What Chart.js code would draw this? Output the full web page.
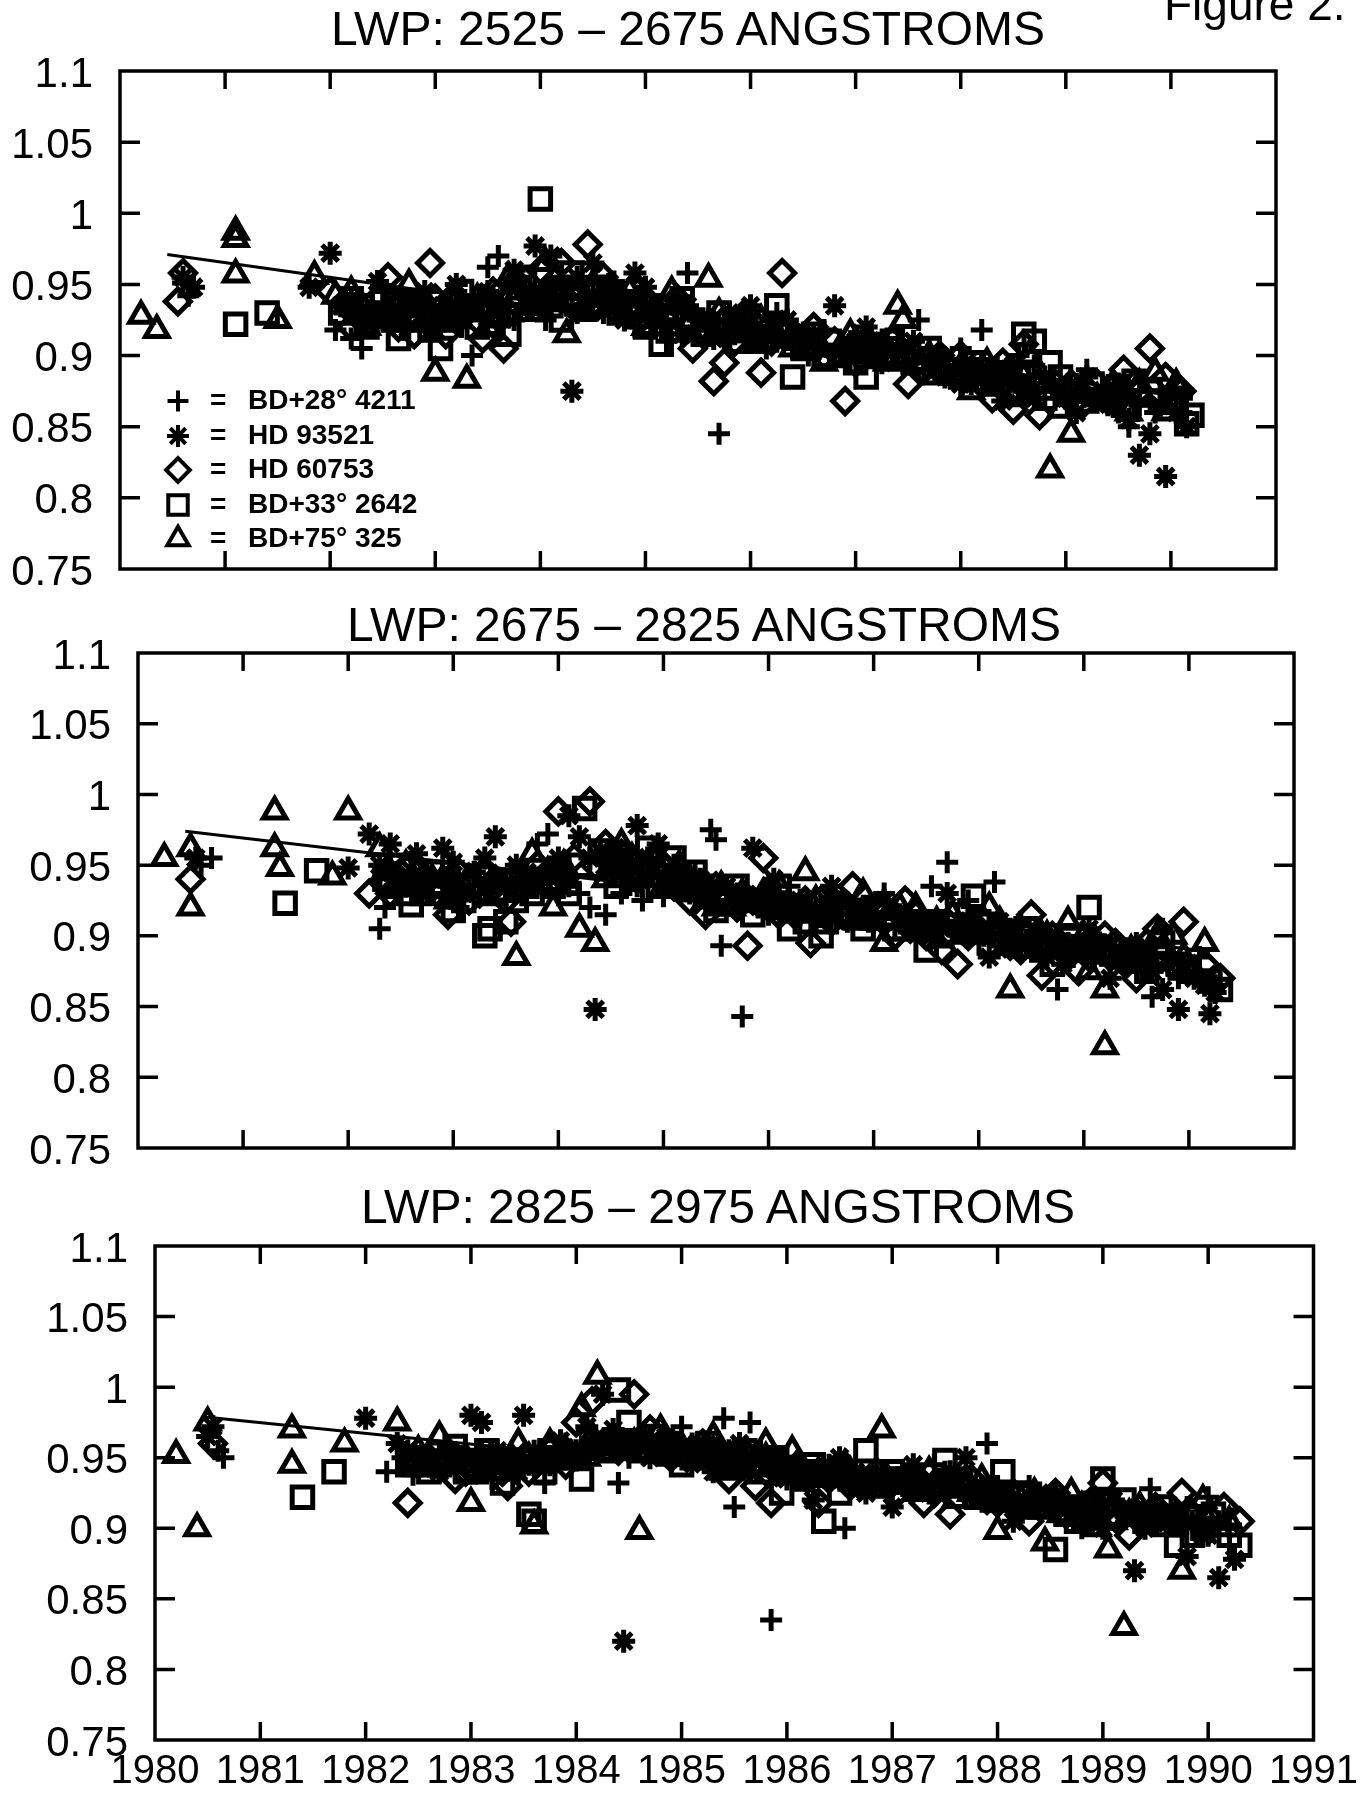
<!DOCTYPE html>
<html>
<head>
<meta charset="utf-8">
<title>LWP sensitivity</title>
<script src="https://cdn.jsdelivr.net/npm/chart.js@4.4.1/dist/chart.umd.min.js"></script>
<style>
  body { margin: 0; background: #fff; width: 1366px; height: 1799px; overflow: hidden; position: relative;
         font-family: 'Liberation Sans', Arial, sans-serif; color: #000; }
  .panel { position: absolute; left: 0; width: 1366px; }
  .title { position: absolute; font-size: 48px; line-height: 1; white-space: nowrap; transform: translate(-50%, -50%); }
  #fig { position: absolute; left: 1164px; top: -19px; font-size: 46px; line-height: 46px; white-space: nowrap; }
</style>
</head>
<body>

<div class="panel" style="top:0;height:600px"><canvas id="c1"></canvas></div>
<div class="panel" style="top:600px;height:600px"><canvas id="c2"></canvas></div>
<div class="panel" style="top:1200px;height:599px"><canvas id="c3"></canvas></div>

<div id="fig">Figure 2.</div>
<div class="title" style="left:688px;top:29px">LWP: 2525 – 2675 ANGSTROMS</div>
<div class="title" style="left:704px;top:625px">LWP: 2675 – 2825 ANGSTROMS</div>
<div class="title" style="left:718px;top:1207px">LWP: 2825 – 2975 ANGSTROMS</div>

<script>
// axis ticks
const xTicks = [1980, 1981, 1982, 1983, 1984, 1985, 1986, 1987, 1988, 1989, 1990, 1991];
const xTickLabels = ['1980', '1981', '1982', '1983', '1984', '1985', '1986', '1987', '1988', '1989', '1990', '1991'];
const yTicks = [0.75, 0.8, 0.85, 0.9, 0.95, 1, 1.05, 1.1];
const yTickLabels = ['0.75', '0.8', '0.85', '0.9', '0.95', '1', '1.05', '1.1'];

// stars
const starNames = ['BD+28° 4211', 'HD 93521', 'HD 60753', 'BD+33° 2642', 'BD+75° 325'];
const starSymbols = ['cross', 'star', 'rectRot', 'rect', 'triangle'];

// ---- LWP 2525 - 2675 ----
const p1Bd28 = [[1980.6,0.951],[1980.65,0.942],[1982.05,0.918],[1982.2,0.912],[1982.3,0.905],[1982.4,0.935],[1982.6,0.928],[1982.8,0.94],[1983.0,0.922],[1983.2,0.945],[1983.35,0.9],[1983.5,0.962],[1983.6,0.97],[1983.7,0.935],[1983.9,0.948],[1984.05,0.925],[1984.2,0.955],[1984.4,0.94],[1984.6,0.93],[1984.8,0.945],[1985.0,0.935],[1985.2,0.91],[1985.4,0.958],[1985.6,0.92],[1985.7,0.845],[1985.9,0.925],[1986.1,0.915],[1986.4,0.905],[1986.7,0.918],[1987.0,0.9],[1987.3,0.912],[1987.6,0.925],[1987.8,0.895],[1988.0,0.905],[1988.2,0.918],[1988.4,0.885],[1988.7,0.893],[1988.9,0.875],[1989.1,0.88],[1989.3,0.872],[1989.5,0.86],[1989.6,0.85],[1989.7,0.865],[1989.9,0.875],[1990.1,0.86],
  [1982.15,0.93],[1982.5,0.945],[1982.7,0.918],[1983.1,0.935],[1983.45,0.925],[1983.8,0.955],[1984.15,0.94],[1984.35,0.93],[1984.7,0.952],[1984.9,0.92],[1985.3,0.93],[1985.75,0.91],[1986.0,0.92],[1986.25,0.93],[1986.55,0.9],[1986.85,0.905],[1987.15,0.915],[1987.45,0.895],[1988.1,0.88],[1988.55,0.9],[1988.8,0.87],[1989.2,0.89],[1989.4,0.865],[1990.0,0.87],
  [1982.25,0.925],[1982.55,0.935],[1982.9,0.93],[1983.25,0.92],[1983.55,0.94],[1983.75,0.925],[1984.0,0.945],[1984.25,0.935],[1984.55,0.945],[1984.75,0.935],[1985.05,0.925],[1985.45,0.92],[1985.85,0.915],[1986.15,0.905],[1986.45,0.915],[1986.95,0.91],[1987.35,0.9],[1987.7,0.905],[1988.05,0.895],[1988.35,0.88],[1988.65,0.885],[1989.05,0.87],[1989.55,0.875],[1989.85,0.86]];
const p1Hd93 = [[1980.6,0.955],[1980.7,0.948],[1981.8,0.948],[1982.0,0.972],[1982.2,0.94],[1982.45,0.952],[1982.6,0.93],[1982.9,0.945],[1983.1,0.925],[1983.3,0.935],[1983.5,0.945],[1983.75,0.96],[1983.95,0.977],[1984.1,0.97],[1984.3,0.875],[1984.35,0.955],[1984.5,0.965],[1984.7,0.945],[1984.9,0.958],[1985.1,0.93],[1985.3,0.94],[1985.5,0.925],[1985.8,0.93],[1986.0,0.935],[1986.2,0.92],[1986.5,0.91],[1986.8,0.935],[1987.1,0.92],[1987.4,0.905],[1987.7,0.895],[1988.0,0.88],[1988.2,0.89],[1988.4,0.868],[1988.6,0.875],[1988.8,0.885],[1989.0,0.87],[1989.2,0.885],[1989.45,0.865],[1989.7,0.83],[1989.8,0.845],[1989.95,0.815],[1990.05,0.86],[1990.15,0.85],
  [1982.1,0.935],[1982.35,0.922],[1982.75,0.94],[1983.0,0.918],[1983.2,0.95],[1983.6,0.93],[1983.85,0.945],[1984.0,0.935],[1984.2,0.95],[1984.6,0.935],[1984.8,0.925],[1985.0,0.948],[1985.2,0.92],[1985.4,0.935],[1985.65,0.912],[1986.1,0.91],[1986.35,0.925],[1986.65,0.905],[1987.0,0.91],[1987.25,0.895],[1987.55,0.91],[1987.85,0.885],[1988.3,0.88],[1988.5,0.893],[1988.95,0.878],[1989.1,0.86],[1989.35,0.875],[1989.6,0.855],[1990.1,0.87],
  [1982.3,0.93],[1982.65,0.925],[1982.95,0.935],[1983.15,0.928],[1983.4,0.935],[1983.7,0.95],[1983.9,0.94],[1984.15,0.94],[1984.45,0.94],[1984.65,0.95],[1985.05,0.935],[1985.35,0.915],[1985.6,0.925],[1985.9,0.92],[1986.25,0.91],[1986.6,0.915],[1986.9,0.9],[1987.2,0.905],[1987.5,0.895],[1987.8,0.9],[1988.1,0.885],[1988.45,0.885],[1988.7,0.87],[1989.25,0.87],[1989.5,0.88],[1989.9,0.865]];
const p1Hd60 = [[1980.55,0.938],[1980.6,0.958],[1982.0,0.945],[1982.3,0.925],[1982.55,0.955],[1982.8,0.915],[1982.95,0.965],[1983.1,0.915],[1983.3,0.93],[1983.45,0.912],[1983.65,0.905],[1983.8,0.95],[1984.0,0.96],[1984.2,0.965],[1984.45,0.978],[1984.6,0.955],[1984.8,0.938],[1985.0,0.94],[1985.2,0.925],[1985.45,0.905],[1985.65,0.882],[1985.75,0.895],[1985.95,0.93],[1986.1,0.888],[1986.3,0.958],[1986.45,0.91],[1986.7,0.9],[1986.9,0.868],[1987.2,0.9],[1987.5,0.88],[1987.8,0.9],[1988.1,0.888],[1988.3,0.87],[1988.5,0.862],[1988.6,0.908],[1988.75,0.858],[1989.0,0.872],[1989.3,0.88],[1989.55,0.89],[1989.8,0.905],[1989.95,0.885],[1990.1,0.875],
  [1982.15,0.935],[1982.45,0.94],[1982.65,0.92],[1983.0,0.94],[1983.2,0.925],[1983.55,0.945],[1983.9,0.935],[1984.1,0.945],[1984.3,0.935],[1984.7,0.945],[1984.95,0.925],[1985.3,0.94],[1985.55,0.915],[1985.85,0.91],[1986.0,0.925],[1986.2,0.91],[1986.6,0.92],[1987.0,0.895],[1987.35,0.91],[1987.65,0.89],[1988.0,0.9],[1988.2,0.88],[1988.4,0.895],[1988.9,0.88],[1989.15,0.865],[1989.45,0.87],[1989.7,0.875],
  [1982.2,0.92],[1982.5,0.928],[1982.85,0.935],[1983.15,0.94],[1983.4,0.925],[1983.7,0.93],[1984.05,0.94],[1984.35,0.95],[1984.55,0.935],[1984.85,0.93],[1985.1,0.932],[1985.4,0.92],[1985.75,0.925],[1986.05,0.915],[1986.35,0.92],[1986.8,0.91],[1987.1,0.905],[1987.45,0.9],[1987.9,0.89],[1988.25,0.885],[1988.65,0.875],[1989.05,0.88],[1989.35,0.87],[1989.6,0.865]];
const p1Bd33 = [[1981.1,0.922],[1981.4,0.93],[1982.1,0.93],[1982.35,0.92],[1982.5,0.942],[1982.65,0.912],[1982.85,0.925],[1983.05,0.905],[1983.25,0.945],[1983.4,0.92],[1983.6,0.928],[1983.85,0.955],[1984.0,1.01],[1984.1,0.935],[1984.3,0.958],[1984.5,0.945],[1984.75,0.93],[1985.0,0.92],[1985.15,0.908],[1985.35,0.94],[1985.55,0.915],[1985.85,0.925],[1986.05,0.91],[1986.25,0.935],[1986.4,0.885],[1986.6,0.915],[1986.85,0.9],[1987.1,0.885],[1987.35,0.91],[1987.55,0.895],[1987.85,0.89],[1988.1,0.895],[1988.35,0.88],[1988.6,0.915],[1988.7,0.91],[1988.85,0.895],[1989.1,0.875],[1989.4,0.87],[1989.65,0.882],[1989.9,0.868],[1990.05,0.87],[1990.15,0.852],[1990.2,0.858],
  [1982.2,0.94],[1982.45,0.93],[1982.75,0.935],[1982.95,0.918],[1983.15,0.93],[1983.5,0.935],[1983.7,0.915],[1983.95,0.94],[1984.2,0.925],[1984.4,0.935],[1984.6,0.948],[1984.9,0.935],[1985.1,0.928],[1985.45,0.925],[1985.7,0.93],[1985.95,0.918],[1986.15,0.92],[1986.5,0.905],[1986.75,0.91],[1987.0,0.895],[1987.25,0.9],[1987.7,0.905],[1988.0,0.885],[1988.25,0.89],[1988.5,0.875],[1988.95,0.885],[1989.25,0.88],[1989.55,0.865],[1989.8,0.875],
  [1982.3,0.935],[1982.6,0.925],[1982.8,0.93],[1983.1,0.925],[1983.35,0.935],[1983.55,0.922],[1983.8,0.938],[1984.15,0.945],[1984.35,0.94],[1984.7,0.94],[1985.05,0.935],[1985.25,0.918],[1985.6,0.92],[1985.9,0.91],[1986.3,0.915],[1986.7,0.9],[1986.95,0.905],[1987.45,0.9],[1987.75,0.888],[1988.15,0.89],[1988.45,0.888],[1988.8,0.87],[1989.2,0.868],[1989.5,0.878]];
const p1Bd75 = [[1980.2,0.928],[1980.35,0.918],[1981.1,0.982],[1981.1,0.987],[1981.1,0.957],[1981.5,0.925],[1981.85,0.956],[1982.05,0.942],[1982.3,0.935],[1982.5,0.925],[1982.75,0.95],[1983.0,0.888],[1983.15,0.94],[1983.3,0.883],[1983.5,0.92],[1983.7,0.955],[1983.9,0.93],[1984.05,0.965],[1984.25,0.915],[1984.5,0.95],[1984.7,0.935],[1984.95,0.925],[1985.25,0.945],[1985.6,0.954],[1985.8,0.915],[1986.1,0.925],[1986.4,0.905],[1986.7,0.895],[1986.95,0.915],[1987.2,0.905],[1987.4,0.935],[1987.45,0.925],[1987.8,0.89],[1988.1,0.875],[1988.4,0.885],[1988.65,0.9],[1988.85,0.82],[1988.95,0.862],[1989.05,0.845],[1989.3,0.87],[1989.6,0.86],[1989.85,0.888],[1990.05,0.88],
  [1982.2,0.945],[1982.4,0.93],[1982.65,0.935],[1982.9,0.925],[1983.1,0.93],[1983.4,0.94],[1983.6,0.935],[1983.8,0.945],[1984.0,0.93],[1984.15,0.955],[1984.4,0.93],[1984.6,0.94],[1984.85,0.945],[1985.1,0.93],[1985.4,0.92],[1985.7,0.93],[1985.95,0.92],[1986.25,0.915],[1986.55,0.91],[1986.85,0.905],[1987.1,0.9],[1987.6,0.895],[1987.95,0.885],[1988.25,0.895],[1988.5,0.87],[1988.75,0.88],[1989.15,0.875],[1989.45,0.88],[1989.75,0.87],[1989.95,0.86],
  [1982.35,0.92],[1982.6,0.94],[1982.85,0.935],[1983.05,0.928],[1983.25,0.935],[1983.55,0.928],[1983.75,0.94],[1984.1,0.94],[1984.3,0.945],[1984.55,0.935],[1984.8,0.93],[1985.0,0.92],[1985.35,0.935],[1985.65,0.915],[1986.0,0.915],[1986.3,0.92],[1986.6,0.905],[1987.0,0.91],[1987.3,0.895],[1987.7,0.9],[1988.0,0.892],[1988.3,0.88],[1988.6,0.885],[1989.0,0.875],[1989.4,0.868],[1989.7,0.88]];
const p1Trend = [[1980.45,0.971],[1990.2,0.870]];

// ---- LWP 2675 - 2825 ----
const p2Bd28 = [[1980.6,0.95],[1980.7,0.955],[1982.3,0.905],[1982.35,0.92],[1982.6,0.94],[1982.9,0.93],[1983.2,0.945],[1983.5,0.925],[1983.8,0.965],[1983.9,0.972],[1984.1,0.935],[1984.3,0.92],[1984.45,0.915],[1984.6,0.93],[1984.8,0.925],[1985.0,0.928],[1985.3,0.945],[1985.45,0.975],[1985.5,0.968],[1985.55,0.893],[1985.75,0.843],[1985.9,0.92],[1986.1,0.93],[1986.3,0.915],[1986.6,0.925],[1986.9,0.92],[1987.1,0.93],[1987.3,0.91],[1987.55,0.935],[1987.7,0.952],[1987.9,0.925],[1988.15,0.938],[1988.3,0.905],[1988.5,0.895],[1988.75,0.862],[1988.9,0.885],[1989.1,0.9],[1989.4,0.89],[1989.55,0.875],[1989.65,0.857],[1989.75,0.905],[1989.9,0.87],[1990.1,0.885],[1990.25,0.865],
  [1982.5,0.93],[1982.75,0.945],[1983.05,0.92],[1983.35,0.935],[1983.65,0.94],[1984.0,0.95],[1984.2,0.93],[1984.7,0.94],[1984.95,0.95],[1985.15,0.935],[1985.7,0.93],[1986.0,0.915],[1986.2,0.935],[1986.45,0.92],[1986.75,0.91],[1987.0,0.915],[1987.2,0.92],[1987.45,0.905],[1987.8,0.915],[1988.05,0.9],[1988.4,0.91],[1988.6,0.89],[1989.0,0.895],[1989.25,0.88],[1989.85,0.885],[1990.0,0.875],
  [1982.45,0.945],[1982.7,0.93],[1983.0,0.94],[1983.25,0.93],[1983.55,0.945],[1983.75,0.935],[1984.05,0.94],[1984.5,0.945],[1984.75,0.935],[1985.05,0.94],[1985.25,0.93],[1985.65,0.925],[1985.95,0.93],[1986.35,0.92],[1986.65,0.915],[1986.95,0.91],[1987.35,0.915],[1987.65,0.905],[1987.95,0.91],[1988.25,0.9],[1988.55,0.9],[1988.85,0.895],[1989.2,0.89],[1989.5,0.895],[1989.95,0.88]];
const p2Hd93 = [[1980.55,0.955],[1982.0,0.948],[1982.2,0.972],[1982.4,0.965],[1982.65,0.958],[1982.9,0.962],[1983.0,0.952],[1983.2,0.945],[1983.4,0.97],[1983.6,0.95],[1983.85,0.94],[1984.1,0.985],[1984.2,0.97],[1984.35,0.848],[1984.55,0.96],[1984.75,0.978],[1984.95,0.965],[1985.1,0.95],[1985.35,0.94],[1985.6,0.935],[1985.85,0.962],[1986.05,0.94],[1986.3,0.925],[1986.6,0.935],[1986.85,0.915],[1987.1,0.925],[1987.4,0.905],[1987.7,0.93],[1987.95,0.91],[1988.1,0.885],[1988.3,0.895],[1988.55,0.9],[1988.8,0.88],[1989.05,0.905],[1989.25,0.87],[1989.55,0.89],[1989.75,0.862],[1989.9,0.848],[1990.05,0.87],[1990.2,0.845],[1990.25,0.86],
  [1982.3,0.95],[1982.55,0.935],[1982.8,0.94],[1983.1,0.93],[1983.3,0.955],[1983.5,0.935],[1983.7,0.945],[1984.0,0.955],[1984.4,0.96],[1984.65,0.945],[1984.85,0.955],[1985.2,0.935],[1985.45,0.925],[1985.75,0.93],[1986.15,0.92],[1986.45,0.915],[1986.7,0.925],[1987.0,0.91],[1987.25,0.915],[1987.55,0.9],[1987.85,0.905],[1988.2,0.91],[1988.45,0.895],[1988.65,0.885],[1988.95,0.89],[1989.15,0.895],[1989.4,0.88],[1989.65,0.875],[1990.15,0.865],
  [1982.45,0.94],[1982.75,0.93],[1983.05,0.94],[1983.45,0.94],[1983.75,0.94],[1984.05,0.945],[1984.3,0.955],[1984.6,0.95],[1984.9,0.945],[1985.15,0.945],[1985.4,0.935],[1985.65,0.925],[1985.95,0.92],[1986.25,0.92],[1986.55,0.92],[1986.95,0.915],[1987.3,0.91],[1987.6,0.91],[1987.9,0.9],[1988.35,0.9],[1988.7,0.895],[1989.1,0.885],[1989.45,0.89],[1989.8,0.88]];
const p2Hd60 = [[1980.5,0.94],[1982.2,0.93],[1982.5,0.945],[1982.7,0.935],[1982.95,0.915],[1983.15,0.925],[1983.4,0.94],[1983.55,0.91],[1983.8,0.95],[1984.0,0.988],[1984.3,0.995],[1984.45,0.965],[1984.6,0.958],[1984.9,0.955],[1985.1,0.935],[1985.4,0.915],[1985.6,0.925],[1985.8,0.893],[1985.95,0.955],[1986.15,0.92],[1986.4,0.895],[1986.6,0.91],[1986.8,0.935],[1987.1,0.91],[1987.3,0.925],[1987.5,0.9],[1987.65,0.89],[1987.8,0.88],[1988.05,0.91],[1988.3,0.893],[1988.5,0.915],[1988.6,0.872],[1988.8,0.89],[1989.05,0.885],[1989.3,0.895],[1989.5,0.87],[1989.7,0.905],[1989.95,0.91],[1990.15,0.88],[1990.3,0.87],
  [1982.35,0.94],[1982.6,0.95],[1982.85,0.93],[1983.05,0.945],[1983.25,0.93],[1983.65,0.935],[1983.9,0.945],[1984.15,0.955],[1984.5,0.945],[1984.75,0.94],[1985.0,0.95],[1985.25,0.925],[1985.5,0.935],[1985.7,0.92],[1986.0,0.93],[1986.25,0.915],[1986.5,0.925],[1986.95,0.915],[1987.2,0.9],[1987.4,0.915],[1987.9,0.9],[1988.15,0.905],[1988.4,0.89],[1988.7,0.9],[1988.95,0.875],[1989.2,0.9],[1989.4,0.88],[1989.6,0.895],[1989.85,0.88],
  [1982.4,0.93],[1982.75,0.94],[1983.0,0.935],[1983.3,0.945],[1983.5,0.925],[1983.75,0.94],[1984.05,0.94],[1984.35,0.95],[1984.65,0.95],[1984.85,0.945],[1985.15,0.94],[1985.35,0.93],[1985.85,0.925],[1986.1,0.915],[1986.35,0.925],[1986.7,0.915],[1987.05,0.92],[1987.35,0.905],[1987.7,0.91],[1988.0,0.905],[1988.25,0.895],[1988.55,0.9],[1988.9,0.89],[1989.25,0.885],[1989.55,0.885]];
const p2Bd33 = [[1981.4,0.923],[1981.7,0.946],[1982.4,0.935],[1982.6,0.922],[1982.8,0.945],[1983.0,0.918],[1983.3,0.9],[1983.35,0.905],[1983.5,0.91],[1983.75,0.93],[1984.0,0.945],[1984.25,0.99],[1984.55,0.935],[1984.7,0.94],[1984.85,0.962],[1985.1,0.955],[1985.3,0.945],[1985.5,0.918],[1985.7,0.935],[1986.0,0.925],[1986.2,0.905],[1986.5,0.9],[1986.75,0.915],[1987.0,0.92],[1987.2,0.905],[1987.5,0.89],[1987.8,0.915],[1987.95,0.928],[1988.2,0.9],[1988.45,0.905],[1988.7,0.88],[1989.05,0.92],[1989.2,0.89],[1989.5,0.885],[1989.75,0.895],[1990.0,0.875],[1990.2,0.868],[1990.3,0.862],
  [1982.5,0.95],[1982.7,0.93],[1982.9,0.935],[1983.15,0.935],[1983.6,0.925],[1983.9,0.94],[1984.1,0.93],[1984.4,0.96],[1984.6,0.95],[1984.95,0.935],[1985.2,0.94],[1985.4,0.93],[1985.6,0.925],[1985.85,0.915],[1986.1,0.935],[1986.35,0.91],[1986.6,0.92],[1986.9,0.905],[1987.1,0.915],[1987.35,0.91],[1987.65,0.9],[1988.0,0.91],[1988.3,0.895],[1988.55,0.895],[1988.85,0.9],[1989.35,0.885],[1989.6,0.875],[1989.9,0.88],
  [1982.35,0.94],[1982.55,0.93],[1982.85,0.935],[1983.1,0.925],[1983.4,0.93],[1983.7,0.935],[1983.95,0.935],[1984.2,0.95],[1984.5,0.955],[1984.8,0.945],[1985.05,0.935],[1985.35,0.935],[1985.55,0.93],[1985.8,0.925],[1986.05,0.92],[1986.3,0.92],[1986.55,0.91],[1986.85,0.915],[1987.3,0.905],[1987.55,0.91],[1987.9,0.905],[1988.1,0.895],[1988.4,0.9],[1988.6,0.89],[1988.95,0.89],[1989.3,0.89],[1989.7,0.885]];
const p2Bd75 = [[1980.25,0.955],[1980.5,0.962],[1980.5,0.92],[1981.3,0.988],[1981.3,0.962],[1981.35,0.948],[1981.85,0.942],[1982.0,0.988],[1982.3,0.962],[1982.55,0.95],[1982.8,0.94],[1983.05,0.93],[1983.3,0.945],[1983.6,0.885],[1983.75,0.958],[1983.95,0.92],[1984.2,0.905],[1984.35,0.895],[1984.6,0.965],[1984.8,0.95],[1985.05,0.94],[1985.3,0.93],[1985.55,0.935],[1985.8,0.925],[1986.1,0.935],[1986.35,0.945],[1986.55,0.915],[1986.9,0.93],[1987.1,0.895],[1987.4,0.92],[1987.6,0.91],[1987.85,0.905],[1988.1,0.92],[1988.3,0.862],[1988.6,0.9],[1988.85,0.91],[1989.05,0.875],[1989.2,0.862],[1989.2,0.822],[1989.45,0.89],[1989.7,0.9],[1989.95,0.885],[1990.15,0.895],
  [1982.45,0.935],[1982.65,0.945],[1982.95,0.925],[1983.15,0.94],[1983.45,0.93],[1983.85,0.935],[1984.05,0.95],[1984.45,0.94],[1984.7,0.955],[1984.9,0.94],[1985.15,0.95],[1985.4,0.925],[1985.65,0.92],[1985.95,0.93],[1986.2,0.92],[1986.45,0.925],[1986.75,0.92],[1987.0,0.91],[1987.25,0.92],[1987.5,0.905],[1987.75,0.915],[1988.0,0.9],[1988.2,0.91],[1988.45,0.89],[1988.75,0.895],[1989.0,0.9],[1989.35,0.885],[1989.6,0.88],[1989.85,0.9],[1990.05,0.875],
  [1982.4,0.945],[1982.6,0.935],[1982.9,0.94],[1983.1,0.935],[1983.35,0.935],[1983.65,0.94],[1983.9,0.945],[1984.1,0.935],[1984.5,0.955],[1984.75,0.945],[1985.0,0.935],[1985.25,0.94],[1985.5,0.92],[1985.75,0.93],[1986.05,0.925],[1986.3,0.915],[1986.6,0.92],[1986.85,0.91],[1987.15,0.91],[1987.45,0.91],[1987.7,0.9],[1987.95,0.91],[1988.35,0.895],[1988.65,0.9],[1988.95,0.89],[1989.25,0.89],[1989.5,0.88],[1989.75,0.89]];
const p2Trend = [[1980.45,0.974],[1990.2,0.889]];

// ---- LWP 2825 - 2975 ----
const p3Bd28 = [[1980.6,0.955],[1980.65,0.95],[1982.2,0.94],[1982.45,0.938],[1982.7,0.955],[1982.95,0.945],[1983.2,0.935],[1983.5,0.95],[1983.7,0.932],[1983.9,0.96],[1984.1,0.97],[1984.4,0.932],[1984.6,0.955],[1984.8,0.96],[1985.0,0.972],[1985.2,0.95],[1985.4,0.978],[1985.5,0.915],[1985.65,0.975],[1985.85,0.835],[1986.0,0.95],[1986.2,0.935],[1986.55,0.9],[1986.8,0.94],[1987.1,0.93],[1987.4,0.945],[1987.6,0.935],[1987.9,0.96],[1988.1,0.92],[1988.3,0.93],[1988.55,0.915],[1988.8,0.9],[1989.0,0.92],[1989.2,0.91],[1989.45,0.928],[1989.6,0.905],[1989.8,0.915],[1990.0,0.922],[1990.2,0.9],
  [1982.35,0.95],[1982.6,0.945],[1982.85,0.94],[1983.1,0.955],[1983.4,0.94],[1983.6,0.955],[1984.0,0.948],[1984.2,0.96],[1984.5,0.95],[1984.7,0.965],[1984.95,0.955],[1985.1,0.96],[1985.3,0.945],[1985.75,0.955],[1986.1,0.94],[1986.4,0.945],[1986.65,0.935],[1986.95,0.94],[1987.25,0.93],[1987.5,0.94],[1987.75,0.925],[1988.0,0.93],[1988.45,0.92],[1988.7,0.915],[1988.9,0.925],[1989.3,0.915],[1989.7,0.91],[1990.1,0.905],
  [1982.55,0.952],[1982.75,0.945],[1983.05,0.948],[1983.3,0.945],[1983.55,0.945],[1983.85,0.95],[1984.05,0.958],[1984.35,0.955],[1984.55,0.96],[1984.85,0.955],[1985.05,0.955],[1985.35,0.955],[1985.6,0.945],[1985.95,0.945],[1986.25,0.94],[1986.5,0.94],[1986.75,0.932],[1987.05,0.935],[1987.35,0.93],[1987.65,0.93],[1987.95,0.925],[1988.2,0.92],[1988.6,0.92],[1989.05,0.912],[1989.35,0.908],[1989.6,0.91],[1989.9,0.905]];
const p3Hd93 = [[1980.5,0.965],[1980.55,0.972],[1982.0,0.978],[1982.3,0.96],[1982.55,0.945],[1982.8,0.955],[1983.0,0.98],[1983.1,0.975],[1983.25,0.955],[1983.5,0.98],[1983.65,0.95],[1983.85,0.962],[1984.1,0.972],[1984.25,0.995],[1984.45,0.82],[1984.6,0.958],[1984.85,0.965],[1985.05,0.955],[1985.3,0.94],[1985.55,0.96],[1985.8,0.945],[1986.0,0.935],[1986.25,0.92],[1986.5,0.95],[1986.75,0.925],[1987.0,0.915],[1987.2,0.945],[1987.45,0.935],[1987.7,0.95],[1987.95,0.925],[1988.15,0.905],[1988.4,0.925],[1988.65,0.915],[1988.9,0.905],[1989.1,0.92],[1989.3,0.87],[1989.55,0.91],[1989.8,0.88],[1989.95,0.895],[1990.1,0.865],[1990.25,0.878],
  [1982.4,0.955],[1982.7,0.94],[1982.95,0.95],[1983.15,0.94],[1983.4,0.95],[1983.75,0.945],[1984.0,0.955],[1984.35,0.97],[1984.5,0.955],[1984.7,0.95],[1984.95,0.96],[1985.2,0.95],[1985.45,0.955],[1985.65,0.94],[1985.9,0.95],[1986.15,0.94],[1986.4,0.935],[1986.65,0.94],[1986.9,0.93],[1987.1,0.935],[1987.35,0.925],[1987.55,0.94],[1987.85,0.93],[1988.05,0.92],[1988.3,0.915],[1988.55,0.92],[1988.8,0.91],[1989.0,0.9],[1989.4,0.9],[1989.7,0.905],[1990.0,0.895],
  [1982.5,0.948],[1982.85,0.945],[1983.2,0.948],[1983.45,0.94],[1983.6,0.945],[1983.95,0.955],[1984.15,0.96],[1984.4,0.96],[1984.65,0.96],[1984.9,0.955],[1985.15,0.96],[1985.35,0.95],[1985.6,0.95],[1985.85,0.95],[1986.1,0.945],[1986.35,0.94],[1986.6,0.935],[1986.85,0.935],[1987.2,0.93],[1987.5,0.93],[1987.8,0.925],[1988.1,0.925],[1988.45,0.918],[1988.75,0.915],[1989.2,0.912],[1989.5,0.905],[1989.85,0.905]];
const p3Hd60 = [[1980.55,0.96],[1982.4,0.918],[1982.6,0.95],[1982.85,0.935],[1983.1,0.945],[1983.35,0.93],[1983.55,0.94],[1983.75,0.955],[1984.0,0.975],[1984.15,0.99],[1984.55,0.995],[1984.7,0.97],[1984.9,0.95],[1985.2,0.96],[1985.45,0.935],[1985.7,0.93],[1985.85,0.918],[1986.1,0.945],[1986.3,0.918],[1986.6,0.93],[1986.85,0.94],[1987.05,0.925],[1987.3,0.918],[1987.55,0.91],[1987.75,0.935],[1988.0,0.918],[1988.3,0.905],[1988.55,0.925],[1988.8,0.91],[1989.0,0.932],[1989.25,0.895],[1989.5,0.915],[1989.75,0.925],[1989.95,0.9],[1990.15,0.915],[1990.3,0.905],
  [1982.5,0.945],[1982.75,0.95],[1982.95,0.94],[1983.2,0.95],[1983.45,0.945],[1983.65,0.95],[1983.9,0.945],[1984.25,0.96],[1984.4,0.955],[1984.8,0.96],[1985.05,0.95],[1985.3,0.955],[1985.55,0.945],[1985.95,0.94],[1986.2,0.935],[1986.45,0.94],[1986.7,0.93],[1986.95,0.935],[1987.15,0.93],[1987.4,0.925],[1987.65,0.93],[1987.9,0.92],[1988.15,0.925],[1988.4,0.915],[1988.65,0.91],[1988.9,0.92],[1989.15,0.905],[1989.4,0.91],[1989.65,0.905],[1989.85,0.91],
  [1982.45,0.95],[1982.7,0.945],[1983.0,0.945],[1983.3,0.94],[1983.5,0.95],[1983.8,0.95],[1984.1,0.955],[1984.45,0.96],[1984.65,0.955],[1984.95,0.955],[1985.15,0.95],[1985.4,0.948],[1985.65,0.95],[1985.9,0.94],[1986.15,0.94],[1986.4,0.935],[1986.65,0.935],[1987.0,0.932],[1987.25,0.935],[1987.5,0.928],[1987.8,0.925],[1988.1,0.92],[1988.35,0.92],[1988.6,0.918],[1988.95,0.91],[1989.3,0.912],[1989.55,0.908]];
const p3Bd33 = [[1981.4,0.922],[1981.7,0.94],[1982.4,0.945],[1982.6,0.94],[1982.85,0.958],[1983.05,0.94],[1983.3,0.932],[1983.55,0.91],[1983.6,0.905],[1983.8,0.95],[1984.05,0.935],[1984.4,0.998],[1984.5,0.975],[1984.75,0.965],[1985.0,0.945],[1985.25,0.96],[1985.5,0.95],[1985.75,0.94],[1985.95,0.925],[1986.15,0.935],[1986.35,0.905],[1986.5,0.925],[1986.75,0.955],[1987.0,0.94],[1987.25,0.93],[1987.5,0.948],[1987.8,0.922],[1988.05,0.94],[1988.3,0.915],[1988.55,0.885],[1988.75,0.905],[1989.0,0.935],[1989.2,0.92],[1989.55,0.915],[1989.7,0.888],[1989.85,0.895],[1990.05,0.91],[1990.3,0.888],
  [1982.5,0.95],[1982.7,0.945],[1982.95,0.94],[1983.15,0.955],[1983.4,0.945],[1983.7,0.94],[1983.95,0.95],[1984.2,0.96],[1984.6,0.955],[1984.9,0.96],[1985.1,0.95],[1985.4,0.945],[1985.6,0.955],[1985.85,0.945],[1986.05,0.94],[1986.25,0.945],[1986.6,0.935],[1986.9,0.93],[1987.15,0.935],[1987.4,0.93],[1987.65,0.935],[1987.95,0.92],[1988.2,0.925],[1988.45,0.92],[1988.65,0.91],[1988.9,0.915],[1989.1,0.91],[1989.4,0.905],[1989.95,0.9],[1990.2,0.895],
  [1982.55,0.945],[1982.8,0.95],[1983.0,0.948],[1983.25,0.942],[1983.5,0.948],[1983.75,0.955],[1984.0,0.952],[1984.3,0.955],[1984.55,0.962],[1984.85,0.955],[1985.15,0.955],[1985.35,0.95],[1985.65,0.945],[1985.9,0.95],[1986.2,0.94],[1986.45,0.94],[1986.7,0.935],[1987.05,0.935],[1987.3,0.928],[1987.55,0.93],[1987.85,0.925],[1988.1,0.922],[1988.4,0.915],[1988.8,0.915],[1989.05,0.918],[1989.3,0.91],[1989.7,0.905]];
const p3Bd75 = [[1980.2,0.952],[1980.4,0.9],[1980.5,0.975],[1981.3,0.97],[1981.3,0.945],[1981.8,0.96],[1982.3,0.975],[1982.5,0.955],[1982.7,0.965],[1983.0,0.918],[1983.2,0.945],[1983.45,0.96],[1983.6,0.902],[1983.85,0.955],[1984.05,0.985],[1984.2,1.008],[1984.35,0.96],[1984.6,0.898],[1984.8,0.97],[1985.0,0.958],[1985.3,0.965],[1985.55,0.95],[1985.8,0.96],[1986.05,0.955],[1986.3,0.94],[1986.55,0.945],[1986.9,0.97],[1987.1,0.935],[1987.35,0.94],[1987.6,0.92],[1987.85,0.935],[1988.0,0.898],[1988.25,0.915],[1988.45,0.89],[1988.7,0.925],[1988.95,0.9],[1989.05,0.885],[1989.2,0.83],[1989.5,0.91],[1989.75,0.87],[1989.95,0.92],[1990.2,0.905],
  [1982.4,0.945],[1982.6,0.95],[1982.85,0.945],[1983.1,0.95],[1983.3,0.94],[1983.55,0.95],[1983.75,0.96],[1983.95,0.95],[1984.15,0.965],[1984.45,0.955],[1984.7,0.96],[1984.9,0.95],[1985.15,0.955],[1985.4,0.94],[1985.7,0.95],[1985.95,0.945],[1986.2,0.935],[1986.45,0.94],[1986.7,0.935],[1987.0,0.93],[1987.25,0.925],[1987.5,0.935],[1987.75,0.925],[1988.1,0.92],[1988.35,0.925],[1988.6,0.91],[1988.85,0.915],[1989.1,0.905],[1989.35,0.915],[1989.6,0.9],[1989.85,0.91],[1990.1,0.9],
  [1982.45,0.948],[1982.75,0.95],[1982.95,0.95],[1983.2,0.94],[1983.4,0.948],[1983.65,0.945],[1983.9,0.955],[1984.1,0.95],[1984.3,0.96],[1984.55,0.96],[1984.8,0.955],[1985.05,0.95],[1985.25,0.955],[1985.5,0.945],[1985.8,0.95],[1986.1,0.945],[1986.35,0.935],[1986.6,0.94],[1986.85,0.935],[1987.15,0.93],[1987.45,0.93],[1987.7,0.93],[1988.0,0.925],[1988.3,0.918],[1988.55,0.92],[1988.8,0.915],[1989.25,0.91],[1989.45,0.905],[1989.7,0.91],[1990.0,0.905]];
const p3Trend = [[1980.45,0.979],[1990.2,0.905]];

const FONT = "'Liberation Sans', Arial, sans-serif";
const symbolRadius = { cross: 11, star: 11.5, rectRot: 12.5, rect: 14.5, triangle: 13 };

const toXY = arr => arr.map(p => ({ x: p[0], y: p[1] }));

// box round the plot with inward ticks on all four sides
const framePlugin = {
  id: 'frame',
  afterDatasetsDraw(chart) {
    const { ctx, chartArea: a, scales: { x, y } } = chart;
    ctx.save();
    ctx.strokeStyle = '#000';
    ctx.lineWidth = 3.5;
    ctx.strokeRect(a.left, a.top, a.right - a.left, a.bottom - a.top);
    ctx.beginPath();
    xTicks.slice(1, -1).forEach(v => {
      const px = x.getPixelForValue(v);
      ctx.moveTo(px, a.top); ctx.lineTo(px, a.top + 18);
      ctx.moveTo(px, a.bottom); ctx.lineTo(px, a.bottom - 18);
    });
    yTicks.slice(1, -1).forEach(v => {
      const py = y.getPixelForValue(v);
      ctx.moveTo(a.left, py); ctx.lineTo(a.left + 20, py);
      ctx.moveTo(a.right, py); ctx.lineTo(a.right - 20, py);
    });
    ctx.stroke();
    ctx.restore();
  }
};

// symbol key in the lower left of the first panel
const keyPlugin = {
  id: 'key',
  afterDraw(chart) {
    const { ctx, chartArea: a } = chart;
    const rows = [168, 133, 99, 64, 30];
    ctx.save();
    ctx.strokeStyle = '#000';
    ctx.lineWidth = 4;
    ctx.fillStyle = 'rgba(0,0,0,0)';
    starSymbols.forEach((s, i) => {
      Chart.helpers.drawPoint(ctx, { pointStyle: s, radius: symbolRadius[s] * 0.95, rotation: 0, borderWidth: 4 },
        a.left + 58, a.bottom - rows[i]);
    });
    ctx.fillStyle = '#000';
    ctx.font = 'bold 28px ' + FONT;
    ctx.textBaseline = 'middle';
    starNames.forEach((n, i) => {
      const yy = a.bottom - rows[i];
      ctx.fillText('=', a.left + 90, yy);
      ctx.fillText(n, a.left + 128, yy);
    });
    ctx.restore();
  }
};

function makePanel(id, series, trend, box, showX, withKey) {
  const datasets = [{
    type: 'line',
    data: toXY(trend),
    borderColor: '#000',
    borderWidth: 3,
    pointRadius: 0,
    showLine: true,
    fill: false
  }];
  series.forEach((s, i) => {
    const style = starSymbols[i];
    datasets.push({
      label: starNames[i],
      data: toXY(s),
      pointStyle: style,
      pointRadius: symbolRadius[style],
      pointBorderWidth: 5,
      pointBorderColor: '#000',
      pointBackgroundColor: 'rgba(0,0,0,0)',
      borderColor: '#000',
      backgroundColor: 'rgba(0,0,0,0)'
    });
  });

  new Chart(document.getElementById(id), {
    type: 'scatter',
    data: { datasets },
    options: {
      responsive: true,
      maintainAspectRatio: false,
      animation: false,
      events: [],
      layout: { padding: { left: 0, right: 1366 - box.right, top: box.top, bottom: showX ? 0 : box.bottom } },
      plugins: { legend: { display: false }, tooltip: { enabled: false } },
      scales: {
        x: {
          type: 'linear', min: 1980, max: 1991, display: showX,
          afterBuildTicks: s => { s.ticks = xTicks.map(v => ({ value: v })); },
          afterFit: s => { s.height = box.xh || 0; },
          grid: { display: false, drawTicks: false }, border: { display: false },
          ticks: { color: '#000', padding: 8, autoSkip: false, maxRotation: 0,
                   font: { family: FONT, size: 40 }, callback: (v, i) => xTickLabels[i] }
        },
        y: {
          min: 0.75, max: 1.1,
          afterBuildTicks: s => { s.ticks = yTicks.map(v => ({ value: v })); },
          // keep the plot box where it is: no extra room for the end labels
          afterFit: s => { s.width = box.left; s.paddingTop = 0; s.paddingBottom = 0; },
          grid: { display: false, drawTicks: false }, border: { display: false },
          ticks: { color: '#000', padding: 27, labelOffset: 4, autoSkip: false,
                   font: { family: FONT, size: 42 }, callback: (v, i) => yTickLabels[i] }
        }
      }
    },
    plugins: withKey ? [framePlugin, keyPlugin] : [framePlugin]
  });
}

makePanel('c1', [p1Bd28, p1Hd93, p1Hd60, p1Bd33, p1Bd75], p1Trend,
  { left: 120, right: 1276, top: 71, bottom: 31 }, false, true);
makePanel('c2', [p2Bd28, p2Hd93, p2Hd60, p2Bd33, p2Bd75], p2Trend,
  { left: 138, right: 1294, top: 53, bottom: 52 }, false, false);
makePanel('c3', [p3Bd28, p3Hd93, p3Hd60, p3Bd33, p3Bd75], p3Trend,
  { left: 155, right: 1318, top: 46, xh: 59 }, true, false);
</script>
</body>
</html>
